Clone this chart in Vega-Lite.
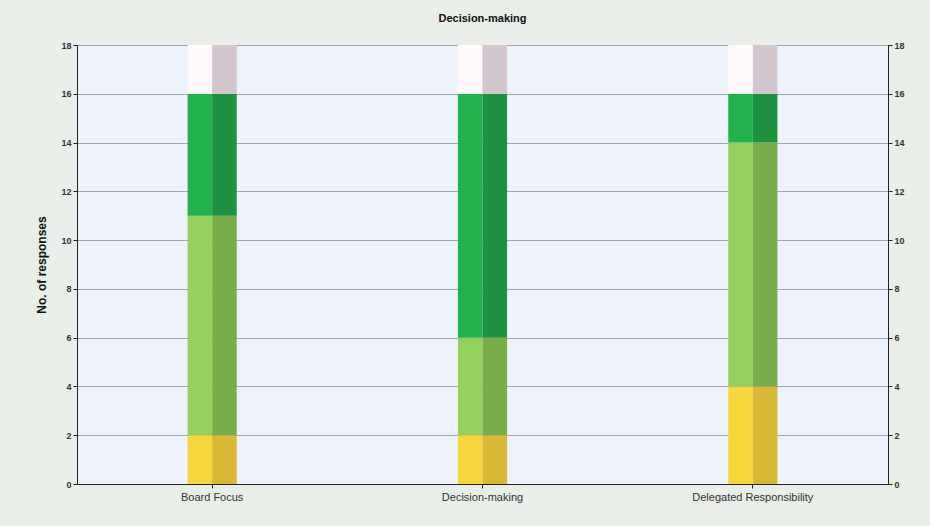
{
  "$schema": "https://vega.github.io/schema/vega-lite/v6.json",
  "width": 811,
  "height": 439,
  "autosize": {"type": "none"},
  "padding": {"left": 77, "top": 45, "right": 42, "bottom": 42},
  "background": "#E9EEE8",
  "title": {"text": "Decision-making", "fontSize": 11, "fontWeight": "bold", "font": "Liberation Sans", "color": "#111", "offset": 17},
  "config": {
    "view": {"stroke": "#222", "strokeWidth": 1, "fill": "#EEF2FA"},
    "axis": {"labelFont": "Liberation Sans", "titleFont": "Liberation Sans", "domainColor": "#222", "tickColor": "#222"}
  },
  "data": {"values": [
    {"category": "Board Focus", "segment": "Not so well", "ord": 1, "side": "L", "count": 2},
    {"category": "Board Focus", "segment": "Well", "ord": 2, "side": "L", "count": 9},
    {"category": "Board Focus", "segment": "Very well", "ord": 3, "side": "L", "count": 5},
    {"category": "Board Focus", "segment": "Blank", "ord": 4, "side": "L", "count": 2},
    {"category": "Board Focus", "segment": "Not so well", "ord": 1, "side": "R", "count": 2},
    {"category": "Board Focus", "segment": "Well", "ord": 2, "side": "R", "count": 9},
    {"category": "Board Focus", "segment": "Very well", "ord": 3, "side": "R", "count": 5},
    {"category": "Board Focus", "segment": "Blank", "ord": 4, "side": "R", "count": 2},
    {"category": "Decision-making", "segment": "Not so well", "ord": 1, "side": "L", "count": 2},
    {"category": "Decision-making", "segment": "Well", "ord": 2, "side": "L", "count": 4},
    {"category": "Decision-making", "segment": "Very well", "ord": 3, "side": "L", "count": 10},
    {"category": "Decision-making", "segment": "Blank", "ord": 4, "side": "L", "count": 2},
    {"category": "Decision-making", "segment": "Not so well", "ord": 1, "side": "R", "count": 2},
    {"category": "Decision-making", "segment": "Well", "ord": 2, "side": "R", "count": 4},
    {"category": "Decision-making", "segment": "Very well", "ord": 3, "side": "R", "count": 10},
    {"category": "Decision-making", "segment": "Blank", "ord": 4, "side": "R", "count": 2},
    {"category": "Delegated Responsibility", "segment": "Not so well", "ord": 1, "side": "L", "count": 4},
    {"category": "Delegated Responsibility", "segment": "Well", "ord": 2, "side": "L", "count": 10},
    {"category": "Delegated Responsibility", "segment": "Very well", "ord": 3, "side": "L", "count": 2},
    {"category": "Delegated Responsibility", "segment": "Blank", "ord": 4, "side": "L", "count": 2},
    {"category": "Delegated Responsibility", "segment": "Not so well", "ord": 1, "side": "R", "count": 4},
    {"category": "Delegated Responsibility", "segment": "Well", "ord": 2, "side": "R", "count": 10},
    {"category": "Delegated Responsibility", "segment": "Very well", "ord": 3, "side": "R", "count": 2},
    {"category": "Delegated Responsibility", "segment": "Blank", "ord": 4, "side": "R", "count": 2}
  ]},
  "transform": [{"calculate": "datum.segment + ' ' + datum.side", "as": "key"}],
  "encoding": {
    "x": {"field": "category", "type": "nominal", "sort": null,
      "scale": {"paddingInner": 0, "paddingOuter": 0},
      "axis": {"title": null, "labelAngle": 0, "labelFontSize": 11, "labelColor": "#333", "tickSize": 4, "labelPadding": 3, "domain": true}},
    "xOffset": {"field": "side", "type": "nominal", "scale": {"domain": ["p1", "p2", "p3", "p4", "L", "R", "p5", "p6", "p7", "p8"], "paddingInner": 0, "paddingOuter": 0.5}},
    "y": {"field": "count", "type": "quantitative", "stack": "zero",
      "scale": {"domain": [0, 18], "nice": false}},
    "order": {"field": "ord", "type": "quantitative"},
    "color": {"field": "key", "type": "nominal", "legend": null,
      "scale": {
        "domain": ["Not so well L", "Not so well R", "Well L", "Well R", "Very well L", "Very well R", "Blank L", "Blank R"],
        "range": ["#F6D63C", "#D9B935", "#94D05E", "#77AE4A", "#22B14C", "#1E9140", "#FFF9FB", "#D3C6CE"]}}
  },
  "resolve": {"axis": {"y": "independent"}},
  "layer": [
    {
      "transform": [{"filter": "datum.side == 'L'"}],
      "mark": {"type": "bar", "opacity": 1},
      "encoding": {
        "y": {"field": "count", "type": "quantitative", "stack": "zero",
          "scale": {"domain": [0, 18], "nice": false},
          "axis": {"orient": "left", "title": "No. of responses", "titleFontSize": 12, "titleFontWeight": "bold", "titleColor": "#111", "titlePadding": 12,
            "values": [0, 2, 4, 6, 8, 10, 12, 14, 16, 18], "labelFontSize": 9, "labelFontWeight": "bold", "labelColor": "#333", "tickSize": 4,
            "grid": true, "gridColor": "#A0A4AC", "gridWidth": 1}}
      }
    },
    {
      "transform": [{"filter": "datum.side == 'R'"}],
      "mark": {"type": "bar", "opacity": 1},
      "encoding": {
        "y": {"field": "count", "type": "quantitative", "stack": "zero",
          "scale": {"domain": [0, 18], "nice": false},
          "axis": {"orient": "right", "title": null,
            "values": [0, 2, 4, 6, 8, 10, 12, 14, 16, 18], "labelFontSize": 9, "labelFontWeight": "bold", "labelColor": "#333", "tickSize": 4, "grid": false}}
      }
    }
  ]
}
